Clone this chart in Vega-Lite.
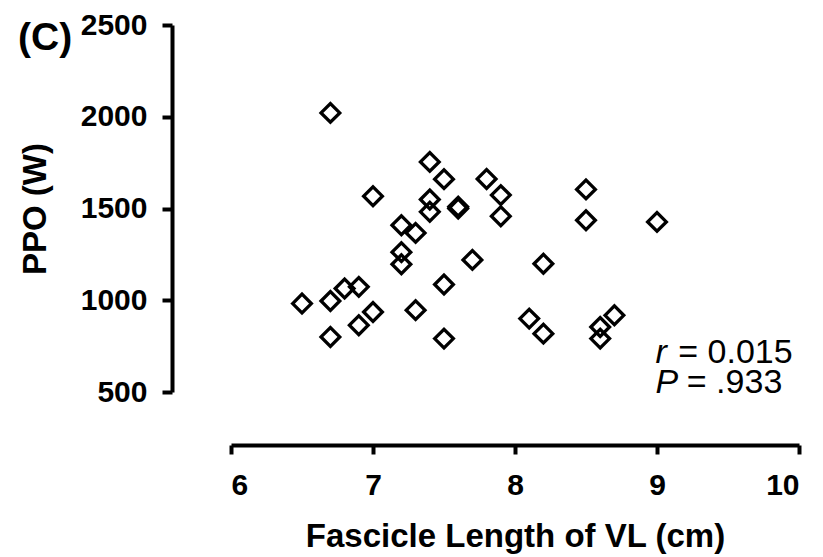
{
  "$schema": "https://vega.github.io/schema/vega-lite/v6.json",
  "autosize": "none",
  "width": 568,
  "height": 367,
  "padding": {"left": 231, "top": 25, "right": 24, "bottom": 165},
  "background": "white",
  "config": {
    "view": {"stroke": null},
    "axis": {
      "grid": false,
      "domainColor": "black",
      "domainWidth": 4,
      "tickColor": "black",
      "tickWidth": 4,
      "labelColor": "black",
      "labelFont": "Liberation Sans",
      "labelFontWeight": "bold",
      "labelFontSize": 30,
      "titleColor": "black",
      "titleFont": "Liberation Sans",
      "titleFontWeight": "bold",
      "titleFontSize": 33
    }
  },
  "datasets": {
    "points": [
      {"fl": 6.7, "ppo": 2021},
      {"fl": 7.4, "ppo": 1754},
      {"fl": 7.5, "ppo": 1660},
      {"fl": 7.8, "ppo": 1661},
      {"fl": 7.0, "ppo": 1567},
      {"fl": 7.9, "ppo": 1573},
      {"fl": 7.4, "ppo": 1549},
      {"fl": 7.4, "ppo": 1482},
      {"fl": 7.6, "ppo": 1510},
      {"fl": 7.6, "ppo": 1500},
      {"fl": 7.9, "ppo": 1458},
      {"fl": 7.2, "ppo": 1409},
      {"fl": 7.3, "ppo": 1367},
      {"fl": 7.2, "ppo": 1262},
      {"fl": 7.2, "ppo": 1196},
      {"fl": 7.7, "ppo": 1220},
      {"fl": 8.2, "ppo": 1199},
      {"fl": 6.5, "ppo": 982},
      {"fl": 6.7, "ppo": 996},
      {"fl": 6.8, "ppo": 1064},
      {"fl": 6.9, "ppo": 1073},
      {"fl": 7.5, "ppo": 1086},
      {"fl": 7.0, "ppo": 936},
      {"fl": 6.9, "ppo": 864},
      {"fl": 7.3, "ppo": 946},
      {"fl": 6.7, "ppo": 800},
      {"fl": 7.5, "ppo": 791},
      {"fl": 8.1, "ppo": 900},
      {"fl": 8.2, "ppo": 818},
      {"fl": 8.5, "ppo": 1604},
      {"fl": 8.5, "ppo": 1436},
      {"fl": 9.0, "ppo": 1427},
      {"fl": 8.7, "ppo": 918},
      {"fl": 8.6, "ppo": 854},
      {"fl": 8.6, "ppo": 791}
    ],
    "stats": [
      {"sym": "r", "rest": "= 0.015", "xs": 8.99, "xr": 9.15, "yv": 656},
      {"sym": "P", "rest": "= .933", "xs": 8.99, "xr": 9.21, "yv": 493}
    ],
    "panel": [
      {"label": "(C)", "xl": 4.5, "yl": 2363}
    ]
  },
  "layer": [
    {
      "data": {"name": "points"},
      "mark": {"type": "point", "shape": "diamond", "filled": false, "stroke": "black", "strokeWidth": 3.3, "size": 350, "opacity": 1},
      "encoding": {
        "x": {"field": "fl", "type": "quantitative", "scale": {"domain": [6, 10], "nice": false, "zero": false},
          "axis": {"title": "Fascicle Length of VL (cm)", "values": [6, 7, 8, 9, 10], "format": "d", "offset": 53, "tickSize": 9, "labelPadding": 16, "titlePadding": 20}},
        "y": {"field": "ppo", "type": "quantitative", "scale": {"domain": [500, 2500], "nice": false, "zero": false},
          "axis": {"title": "PPO (W)", "values": [500, 1000, 1500, 2000, 2500], "format": "d", "offset": 59, "tickSize": 10, "labelPadding": 15, "titlePadding": 28}}
      }
    },
    {
      "data": {"name": "stats"},
      "mark": {"type": "text", "align": "left", "baseline": "alphabetic", "font": "Liberation Sans", "fontSize": 34, "fontStyle": "italic", "color": "black"},
      "encoding": {
        "x": {"field": "xs", "type": "quantitative"},
        "y": {"field": "yv", "type": "quantitative"},
        "text": {"field": "sym"}
      }
    },
    {
      "data": {"name": "stats"},
      "mark": {"type": "text", "align": "left", "baseline": "alphabetic", "font": "Liberation Sans", "fontSize": 34, "color": "black"},
      "encoding": {
        "x": {"field": "xr", "type": "quantitative"},
        "y": {"field": "yv", "type": "quantitative"},
        "text": {"field": "rest"}
      }
    },
    {
      "data": {"name": "panel"},
      "mark": {"type": "text", "align": "left", "baseline": "alphabetic", "font": "Liberation Sans", "fontSize": 39, "fontWeight": "bold", "color": "black"},
      "encoding": {
        "x": {"field": "xl", "type": "quantitative"},
        "y": {"field": "yl", "type": "quantitative"},
        "text": {"field": "label"}
      }
    }
  ]
}
